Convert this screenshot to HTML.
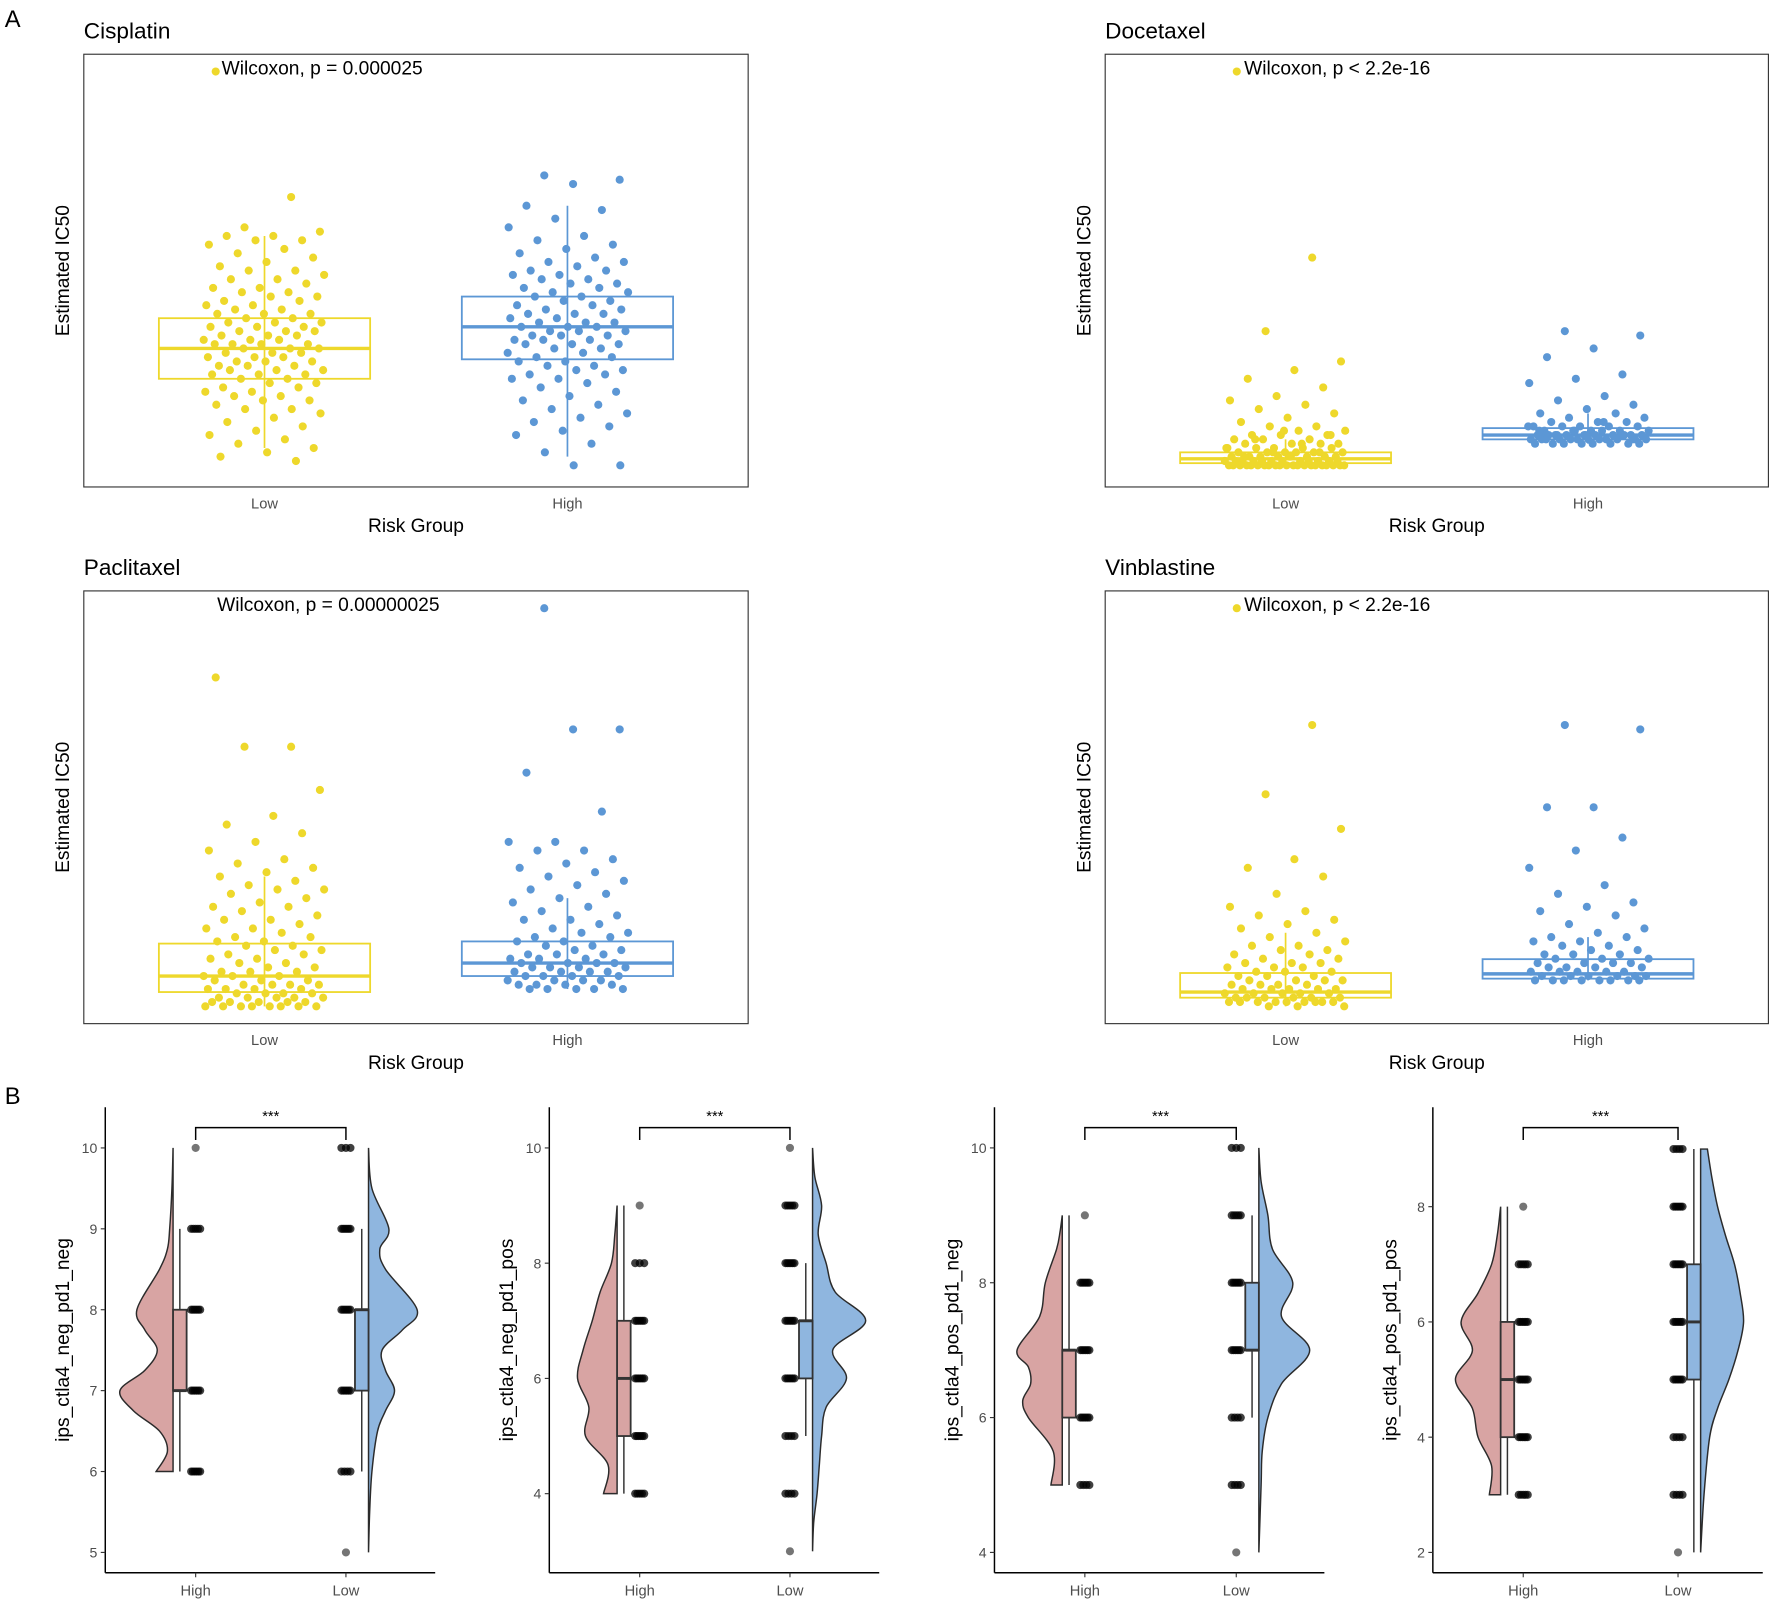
<!DOCTYPE html>
<html><head><meta charset="utf-8">
<style>
html,body{margin:0;padding:0;background:#fff;}
svg{display:block;font-family:"Liberation Sans",Arial,sans-serif;}
</style></head>
<body>
<svg id="fig" width="1772" height="1601" viewBox="0 0 1568 1417" xmlns="http://www.w3.org/2000/svg">
<text x="4" y="24" font-size="21">A</text>
<text x="4" y="977" font-size="21">B</text>
</svg>
<script>
// ---------- Panel A data (values in relative IC50 units, 0-100) ----------
const groupsA = ["Low","High"];
const cisLow = [96,67,60,59,58,58,57,57,56,55,54,53,52,51,50,50,49,48,48,47,46,46,45,45,44,44,43,43,42,42,41,41,40,40,40,39,39,38,38,38,37,37,37,36,36,36,35,35,35,34,34,34,33,33,33,33,32,32,32,31,31,31,30,30,30,29,29,29,28,28,28,27,27,27,26,26,26,25,25,24,24,23,23,22,22,21,21,20,20,19,18,18,17,16,15,14,13,12,11,10,9,8,7,6];
const cisHigh = [72,71,70,65,64,62,60,58,57,56,55,54,53,52,52,51,50,50,49,49,48,48,47,47,46,46,45,45,44,44,43,43,42,42,41,41,40,40,40,39,39,38,38,38,37,37,37,36,36,36,35,35,35,34,34,34,33,33,33,32,32,31,31,30,30,29,29,28,28,27,27,26,26,25,25,24,23,22,21,20,19,18,17,16,15,14,13,12,10,8,5,5];
const docLow = [96,53,36,29,27,25,23,21,20,19,18,17,16,15,14,14,13,13,12,12,12,11,11,11,10,10,10,10,9,9,9,9,9,8,8,8,8,8,8,7,7,7,7,7,7,7,7,6,6,6,6,6,6,6,6,6,5,5,5,5,5,5,5,5,5,5,5,5,5,5,5,5,5,5,5,5,5,6,6,6,7,7,8,8,9,10,11,12,13];
const docHigh = [36,35,32,30,26,25,24,21,20,19,18,17,17,16,16,15,15,15,14,14,14,14,14,13,13,13,13,13,13,12,12,12,12,12,12,12,12,12,12,11,11,11,11,11,11,11,11,11,11,11,10,10,10,10,10,10,10,10,11,12,13,14,15,12,11,12,13];
const pacLow = [80,64,64,54,48,46,44,42,40,38,37,36,35,34,33,32,31,31,30,29,28,27,27,26,25,24,24,23,22,22,21,20,20,19,19,18,18,17,17,16,16,15,15,14,14,13,13,12,12,12,11,11,11,10,10,10,9,9,9,9,8,8,8,8,7,7,7,7,6,6,6,6,6,5,5,5,5,5,4,4,4,4,4,4,4,4];
const pacHigh = [96,68,68,58,49,42,42,40,40,38,37,36,35,34,33,32,31,30,29,28,27,26,25,24,24,23,22,21,21,20,20,19,19,18,18,17,17,16,16,16,15,15,15,14,14,14,14,13,13,13,13,12,12,12,12,11,11,11,11,10,10,10,10,9,9,9,9,8,8,8,8,8];
const vinLow = [96,69,53,45,38,36,34,30,27,26,25,24,23,22,21,20,19,18,18,17,17,16,16,15,15,14,14,14,13,13,13,12,12,12,11,11,11,10,10,10,10,9,9,9,9,8,8,8,8,8,7,7,7,7,7,6,6,6,6,6,6,5,5,5,5,5,5,5,5,5,4,4,4];
const vinHigh = [69,68,50,50,43,40,36,32,30,28,27,26,25,23,22,21,20,20,19,19,18,18,17,17,16,16,16,15,15,15,14,14,14,14,13,13,13,13,12,12,12,12,12,11,11,11,11,11,11,10,10,10,10,10,10,10,10];
// box stats: [q1, median, q3, whiskerLow, whiskerHigh]
const cisLowBox = [25,32,39,9,58], cisHighBox = [29.5,37,44,7,65];
const docLowBox = [5.5,6.5,8,5,11], docHighBox = [11,12,13.6,10,17];
const pacLowBox = [7.3,11,18.5,4,34], pacHighBox = [11,14,19,8,29];
const vinLowBox = [6,7.3,11.7,4,21], vinHighBox = [10.4,11.5,14.9,10,20];

// ---------- Panel B data ----------
const groupsB = ["High","Low"];
const p1Grid = [10,9.5,9,8.75,8.5,8,7.75,7.5,7.25,7,6.75,6.5,6.25,6];
const p1HighDens = [0,1,3,5,12,32,25,14,25,47,35,12,5,15];
const p1LowGrid = [10,9.5,9,8.75,8.5,8,7.75,7.5,7.25,7,6.75,6.5,6,5.5,5];
const p1LowDens = [0,3,18,10,15,43,30,12,15,23,15,8,3,1,0];
const p1HighVals = [6,7,8,9,10], p1HighCounts = [6,6,6,5,1];
const p1LowVals = [5,6,7,8,9,10], p1LowCounts = [1,4,6,6,6,3];
const p1HighBox = [7,7,8,6,9], p1LowBox = [7,8,8,6,9];

const p2HighGrid = [9,8.5,8,7.5,7,6.5,6,5.5,5,4.5,4];
const p2HighDens = [0,2,5,15,22,30,35,25,28,8,12];
const p2LowGrid = [10,9.5,9,8.5,8,7.5,7,6.5,6,5.5,5,4.5,4,3.5,3];
const p2LowDens = [0,2,8,5,12,20,47,18,30,12,8,6,4,1,0];
const p2HighVals = [4,5,6,7,8,9], p2HighCounts = [5,6,6,6,3,1];
const p2LowVals = [3,4,5,6,7,8,9,10], p2LowCounts = [1,4,4,6,6,6,5,1];
const p2HighBox = [5,6,7,4,9], p2LowBox = [6,7,7,5,8];

const p3HighGrid = [9,8.75,8.5,8,7.5,7,6.75,6.5,6.25,6,5.5,5];
const p3HighDens = [0,2,5,15,20,40,30,28,35,30,8,10];
const p3LowGrid = [10,9.5,9,8.5,8,7.5,7,6.5,6,5.5,5,4];
const p3LowDens = [0,2,8,12,30,20,45,20,8,3,2,0];
const p3HighVals = [5,6,7,8,9], p3HighCounts = [4,6,6,6,1];
const p3LowVals = [4,5,6,7,8,9,10], p3LowCounts = [1,4,4,6,6,5,3];
const p3HighBox = [6,7,7,5,9], p3LowBox = [7,7,8,6,9];

const p4HighGrid = [8,7.5,7,6.5,6,5.5,5,4.5,4,3.5,3];
const p4HighDens = [0,3,8,20,35,25,40,25,20,8,10];
const p4LowGrid = [9,8.5,8,7.5,7,6.5,6,5.5,5,4.5,4,3,2];
const p4LowDens = [6,10,15,22,30,35,38,33,25,15,8,3,0];
const p4HighVals = [3,4,5,6,7,8], p4HighCounts = [5,6,6,6,5,1];
const p4LowVals = [2,3,4,5,6,7,8,9], p4LowCounts = [1,4,4,6,6,6,6,4];
const p4HighBox = [4,5,6,3,8], p4LowBox = [5,6,7,2,9];

const NS = "http://www.w3.org/2000/svg";
const svg = document.getElementById("fig");
function mk(tag, attrs, parent){
  const e = document.createElementNS(NS, tag);
  for (const k in attrs) e.setAttribute(k, attrs[k]);
  (parent||svg).appendChild(e);
  return e;
}
function txt(x,y,s,size,fill,anchor,parent){
  const t = mk("text",{x:x,y:y,"font-size":size,fill:fill||"#000","text-anchor":anchor||"start"},parent);
  t.textContent = s; return t;
}

// ---------- Panel A ----------
const YEL = "#EED82B", BLU = "#5C97D5";
function panelA(x0,y0,x1,y1,title,wil,wx,lowPts,highPts,lowBox,highBox,name){
  const g = mk("g",{});
  
  
  const W = x1-x0, H = y1-y0;
  const yS = v => y1 - v/100*H;
  const xCat = i => x0 + W*(i===0?0.272:0.728);
  const t1 = txt(x0, y0-14, title, 20, "#000", "start", g);
  
  
  const fr = mk("rect",{x:x0,y:y0,width:W,height:H,fill:"none",stroke:"#333","stroke-width":1},g);
  
  
  const sets = [[lowPts,lowBox,YEL],[highPts,highBox,BLU]];
  sets.forEach((s,gi)=>{
    const cx = xCat(gi), hw = W*0.159, col = s[2], b = s[1];
    const wh = mk("line",{x1:cx,x2:cx,y1:yS(b[3]),y2:yS(b[4]),stroke:col,"stroke-width":1.5},g);
    
    
    const bx = mk("rect",{x:cx-hw,y:yS(b[2]),width:2*hw,height:yS(b[0])-yS(b[2]),fill:"none",stroke:col,"stroke-width":1.6},g);
    
    
    const md = mk("line",{x1:cx-hw,x2:cx+hw,y1:yS(b[1]),y2:yS(b[1]),stroke:col,"stroke-width":3},g);
    
    
    s[0].forEach((v,i)=>{
      const j = ((i*0.6180339+0.1+gi*0.21)%1)*2-1;
      const c = mk("circle",{cx:cx+j*54,cy:yS(v),r:3.6,fill:col},g);
      
      
    });
    const tl = txt(cx, y1+19, groupsA[gi], 13, "#4d4d4d", "middle", g);
    
    
  });
  const wt = txt(wx, y0+18, wil, 17, "#000", "start", g);
  
  
  const xt = txt(x0+W*0.5, y1+40, "Risk Group", 17, "#000", "middle", g);
  
  
  const yt = txt(0,0,"Estimated IC50",17,"#000","middle",g);
  yt.setAttribute("transform","translate("+(x0-13)+","+(y0+H/2)+") rotate(-90)");
  
  
}
panelA(74,48,662,431,"Cisplatin","Wilcoxon, p = 0.000025",196,cisLow,cisHigh,cisLowBox,cisHighBox,"cisplatin");
panelA(978,48,1565,431,"Docetaxel","Wilcoxon, p < 2.2e-16",1101,docLow,docHigh,docLowBox,docHighBox,"docetaxel");
panelA(74,523,662,906,"Paclitaxel","Wilcoxon, p = 0.00000025",192,pacLow,pacHigh,pacLowBox,pacHighBox,"paclitaxel");
panelA(978,523,1565,906,"Vinblastine","Wilcoxon, p < 2.2e-16",1101,vinLow,vinHigh,vinLowBox,vinHighBox,"vinblastine");

// ---------- Panel B ----------
function smoothPath(pts){
  let d = "M"+pts[0][0]+","+pts[0][1];
  for (let i=0;i<pts.length-1;i++){
    const p0 = pts[Math.max(0,i-1)], p1 = pts[i], p2 = pts[i+1], p3 = pts[Math.min(pts.length-1,i+2)];
    const c1x = p1[0]+(p2[0]-p0[0])/6, c1y = p1[1]+(p2[1]-p0[1])/6;
    const c2x = p2[0]-(p3[0]-p1[0])/6, c2y = p2[1]-(p3[1]-p1[1])/6;
    d += " C"+c1x+","+c1y+" "+c2x+","+c2y+" "+p2[0]+","+p2[1];
  }
  return d;
}
function panelB(cfg){
  const g = mk("g",{});
  
  
  const yS = v => cfg.y0 - (v-cfg.v0)*cfg.k;
  const x0 = cfg.x0, xr = x0+292, yb = 1392, yt = 980;
  const cats = [x0+80, x0+80+cfg.gap];
  const ya = mk("line",{x1:x0,x2:x0,y1:yt,y2:yb,stroke:"#000","stroke-width":1.3},g);
  
  
  const xa = mk("line",{x1:x0,x2:xr,y1:yb,y2:yb,stroke:"#000","stroke-width":1.3},g);
  
  
  cfg.ticks.forEach(t=>{
    mk("line",{x1:x0-4,x2:x0,y1:yS(t),y2:yS(t),stroke:"#333","stroke-width":1},g);
    const tl = txt(x0-7, yS(t)+4.5, String(t), 12.5, "#4d4d4d", "end", g);
    
    
  });
  groupsB.forEach((gn,gi)=>{
    const cx = cats[gi];
    mk("line",{x1:cx,x2:cx,y1:yb,y2:yb+4,stroke:"#333","stroke-width":1},g);
    const xl = txt(cx, yb+20, gn, 13, "#4d4d4d", "middle", g);
    
    
    const dir = gi===0 ? -1 : 1;
    const base = cx + dir*20;
    const grid = gi===0 ? cfg.hGrid : cfg.lGrid;
    const dens = gi===0 ? cfg.hDens : cfg.lDens;
    const pts = grid.map((v,i)=>[base+dir*dens[i], yS(v)]);
    let d = "M"+base+","+yS(grid[0])+" L"+pts[0][0]+","+pts[0][1];
    d += smoothPath(pts).replace(/^M[^ ]+/,"");
    d += " L"+base+","+yS(grid[grid.length-1])+" Z";
    const vp = mk("path",{d:d,fill:gi===0?"#D8A4A3":"#8FB6DF",stroke:"#2b2b2b","stroke-width":1.3},g);
    
    
    const b = gi===0 ? cfg.hBox : cfg.lBox;
    const bl = gi===0 ? cx-20 : cx+8, bc = bl+6;
    const wl = mk("line",{x1:bc,x2:bc,y1:yS(b[3]),y2:yS(b[4]),stroke:"#333","stroke-width":1.3},g);
    
    
    const br = mk("rect",{x:bl,y:yS(b[2]),width:12,height:Math.max(0.5,yS(b[0])-yS(b[2])),fill:gi===0?"#D8A4A3":"#8FB6DF",stroke:"#333","stroke-width":1.6},g);
    
    
    const ml = mk("line",{x1:bl,x2:bl+12,y1:yS(b[1]),y2:yS(b[1]),stroke:"#333","stroke-width":2.6},g);
    
    
    const vals = gi===0 ? cfg.hVals : cfg.lVals;
    const cnts = gi===0 ? cfg.hCnt : cfg.lCnt;
    vals.forEach((v,i)=>{
      const n = cnts[i];
      for (let k=0;k<n;k++){
        const off = n===1 ? 0 : -4 + 8*k/(n-1);
        const c = mk("circle",{cx:cx+off,cy:yS(v),r:3.6,fill:n===1?"#666":"#000","fill-opacity":n===1?0.9:0.75},g);
        
        
      }
    });
  });
  const by = 998;
  const br = mk("path",{d:"M"+cats[0]+","+(by+11)+" V"+by+" H"+cats[1]+" V"+(by+11),fill:"none",stroke:"#000","stroke-width":1.3},g);
  
  
  const st = txt((cats[0]+cats[1])/2, by-6, "***", 13, "#000", "middle", g);
  
  
  const yl = txt(0,0,cfg.ylab,17,"#000","middle",g);
  yl.setAttribute("transform","translate("+(x0-32)+",1186) rotate(-90)");
  
  
}
panelB({name:"ctla4-neg-pd1-neg",x0:93,gap:133,v0:5,y0:1374,k:71.6,ticks:[5,6,7,8,9,10],ylab:"ips_ctla4_neg_pd1_neg",
  hGrid:p1Grid,hDens:p1HighDens,lGrid:p1LowGrid,lDens:p1LowDens,hVals:p1HighVals,hCnt:p1HighCounts,lVals:p1LowVals,lCnt:p1LowCounts,hBox:p1HighBox,lBox:p1LowBox});
panelB({name:"ctla4-neg-pd1-pos",x0:486,gap:133,v0:4,y0:1322,k:51,ticks:[4,6,8,10],ylab:"ips_ctla4_neg_pd1_pos",
  hGrid:p2HighGrid,hDens:p2HighDens,lGrid:p2LowGrid,lDens:p2LowDens,hVals:p2HighVals,hCnt:p2HighCounts,lVals:p2LowVals,lCnt:p2LowCounts,hBox:p2HighBox,lBox:p2LowBox});
panelB({name:"ctla4-pos-pd1-neg",x0:880,gap:134,v0:4,y0:1374,k:59.67,ticks:[4,6,8,10],ylab:"ips_ctla4_pos_pd1_neg",
  hGrid:p3HighGrid,hDens:p3HighDens,lGrid:p3LowGrid,lDens:p3LowDens,hVals:p3HighVals,hCnt:p3HighCounts,lVals:p3LowVals,lCnt:p3LowCounts,hBox:p3HighBox,lBox:p3LowBox});
panelB({name:"ctla4-pos-pd1-pos",x0:1268,gap:137,v0:2,y0:1374,k:51,ticks:[2,4,6,8],ylab:"ips_ctla4_pos_pd1_pos",
  hGrid:p4HighGrid,hDens:p4HighDens,lGrid:p4LowGrid,lDens:p4LowDens,hVals:p4HighVals,hCnt:p4HighCounts,lVals:p4LowVals,lCnt:p4LowCounts,hBox:p4HighBox,lBox:p4LowBox});
</script>
</body></html>
